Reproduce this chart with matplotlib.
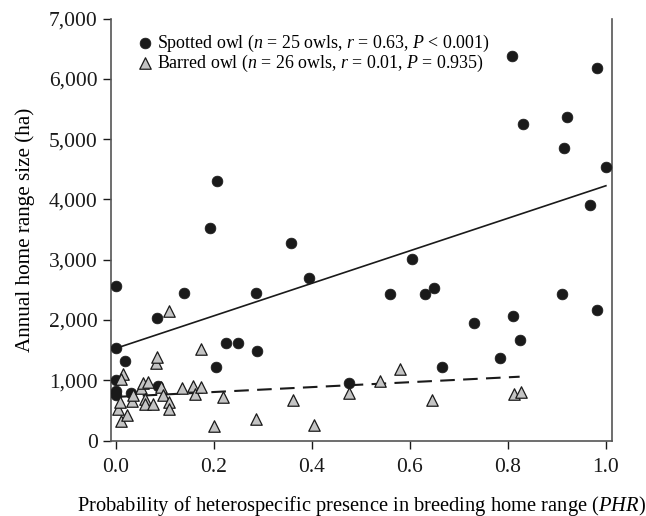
import matplotlib
matplotlib.use("Agg")
import matplotlib.pyplot as plt
import numpy as np

plt.rcParams['font.family'] = ['Liberation Serif', 'DejaVu Serif']
plt.rcParams['mathtext.fontset'] = 'custom'
plt.rcParams['mathtext.rm'] = 'Liberation Serif'
plt.rcParams['mathtext.it'] = 'Liberation Serif:italic'

# datos
spotted_phr = [0.0, 0.0, 0.0, 0.0, 0.0, 0.019, 0.031, 0.084, 0.085, 0.139,
               0.193, 0.207, 0.204, 0.224, 0.25, 0.286, 0.288, 0.357, 0.394, 0.475,
               0.559, 0.605, 0.631, 0.649, 0.665, 0.731, 0.783, 0.808, 0.81, 0.825,
               0.83, 0.911, 0.914, 0.92, 0.967, 0.981, 0.982, 1.0]
spotted_area = [2562, 1529, 1003, 820, 760, 1315, 780, 2036, 900, 2441,
                3519, 4308, 1224, 1622, 1622, 2441, 1489, 3280, 2700, 949,
                2425, 3010, 2435, 2524, 1224, 1944, 1363, 6381, 2070, 1672,
                5254, 2430, 4846, 5370, 3905, 6183, 2170, 4531]

barred_phr = [0.005, 0.008, 0.011, 0.014, 0.011, 0.022, 0.032, 0.035, 0.052, 0.056,
              0.066, 0.059, 0.059, 0.076, 0.082, 0.083, 0.093, 0.097, 0.109, 0.109,
              0.109, 0.134, 0.157, 0.162, 0.173, 0.173, 0.2, 0.219, 0.286, 0.361,
              0.405, 0.475, 0.539, 0.58, 0.645, 0.812, 0.827]
barred_area = [517, 643, 323, 1103, 1015, 430, 655, 755, 870, 950,
               975, 690, 600, 610, 1280, 1390, 892, 760, 640, 520,
               2153, 866, 904, 771, 882, 1512, 240, 716, 352, 672,
               252, 793, 992, 1181, 672, 775, 805]

# rectas de regresion (intercepto, pendiente, rango de x)
spotted_fit = (1529, 2697)
spotted_range = [0.0, 1.0]
barred_fit = (723, 407)
barred_range = [0.008, 0.824]

fig = plt.figure(figsize=(6.46, 5.16), dpi=100)
ax = fig.add_axes([0.1718, 0.1463, 0.7752, 0.8178])

ax.scatter(spotted_phr, spotted_area, s=60, marker='o', color='#1a1a1a',
           edgecolors='#1a1a1a', linewidths=0.5, zorder=3,
           label=r'Spotted owl ($n$ = 25 owls, $r$ = 0.63, $P$ < 0.001)')
ax.scatter(barred_phr, barred_area, s=68, marker='^', color='#c4c4c4',
           edgecolors='#1a1a1a', linewidths=0.9, zorder=3,
           label=r'Barred owl ($n$ = 26 owls, $r$ = 0.01, $P$ = 0.935)')

xs = np.array(spotted_range)
ax.plot(xs, spotted_fit[0] + spotted_fit[1] * xs, color='#1a1a1a', lw=1.2, zorder=2)
xb = np.array(barred_range)
ax.plot(xb, barred_fit[0] + barred_fit[1] * xb, color='#1a1a1a', lw=1.5,
        dashes=(7, 4), zorder=2)

ax.set_xlim(-0.01, 1.012)
ax.set_ylim(0, 7000)
ax.set_xticks([0.0, 0.2, 0.4, 0.6, 0.8, 1.0])
ax.set_yticks(range(0, 7001, 1000))
ax.set_yticklabels(['0', '1,000', '2,000', '3,000', '4,000', '5,000', '6,000', '7,000'])
ax.tick_params(direction='out', length=5.5, width=1, labelsize=15.5, colors='#1a1a1a',
               pad=4)
ax.tick_params(axis='x', pad=7)
ax.spines['top'].set_visible(False)
for s in ['left', 'right', 'bottom']:
    ax.spines[s].set_color('#555555')
    ax.spines[s].set_linewidth(1.2)

ax.set_xlabel(r'Probability of heterospecific presence in breeding home range ($PHR$)',
              fontsize=14.8, labelpad=12)
ax.set_ylabel('Annual home range size (ha)', fontsize=15.2, labelpad=10)

leg = ax.legend(loc='upper left', bbox_to_anchor=(0.0355, 0.983), frameon=False,
                fontsize=12.9, handletextpad=0.15, handlelength=1.0, borderaxespad=0,
                labelspacing=-0.05, scatterpoints=1)

fig.savefig('out.png', dpi=100)
